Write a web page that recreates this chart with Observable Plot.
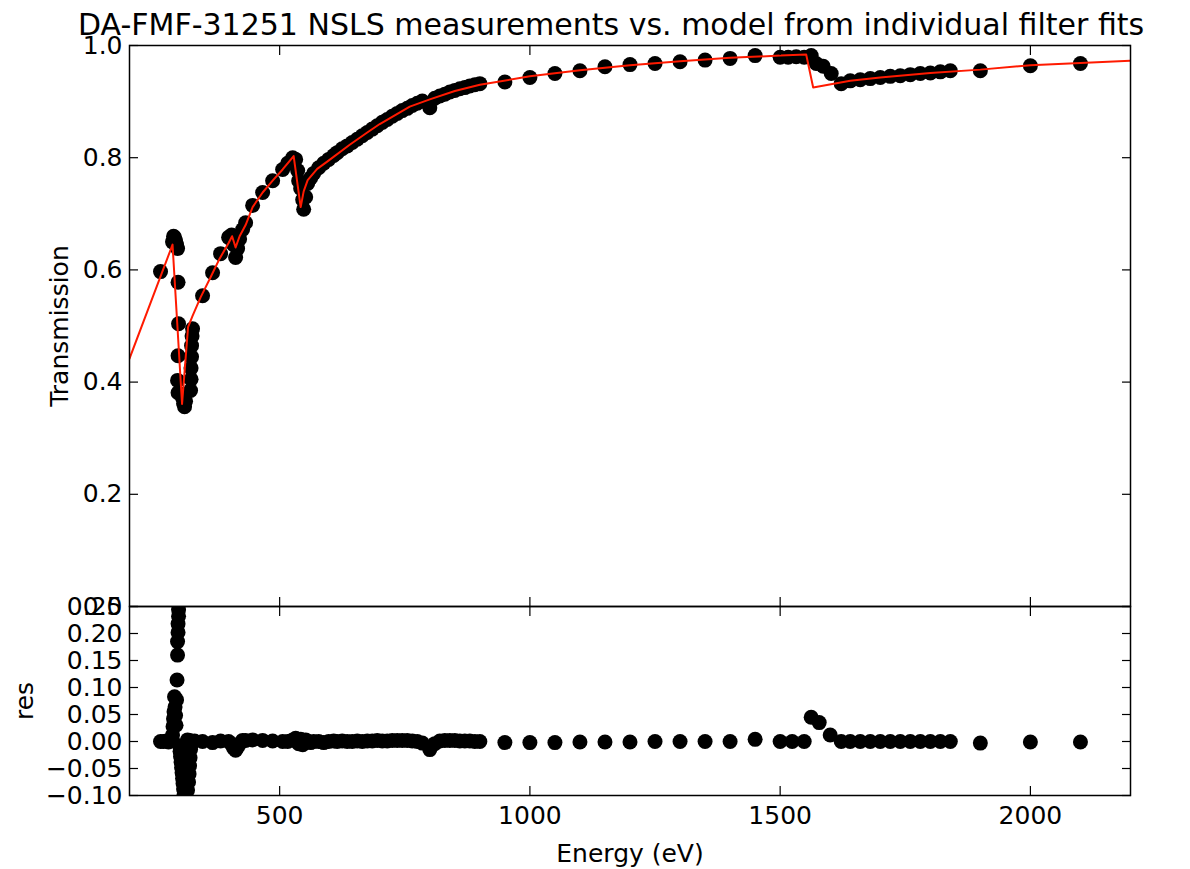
<!DOCTYPE html>
<html>
<head>
<meta charset="utf-8">
<script src="https://cdn.jsdelivr.net/npm/d3@7"></script>
<script src="https://cdn.jsdelivr.net/npm/@observablehq/plot@0.6"></script>
<style>
  body { margin: 0; background: #fff; }
  #wrap { position: relative; width: 1190px; height: 869px; overflow: hidden; font-family: "DejaVu Sans"; color: #000; }
  #title { position: absolute; left: 78px; top: 10px; font-size: 30px; line-height: 30px; white-space: nowrap; }
  #top, #bot { position: absolute; left: 0; }
  #top { top: 0; }
  #bot { top: 590px; }
</style>
</head>
<body>
<div id="wrap">
  <div id="title">DA-FMF-31251 NSLS measurements vs. model from individual filter fits</div>
  <div id="top"></div>
  <div id="bot"></div>
</div>
<script>
// ---- data ----
const measE = [
  262, 286, 288, 290, 292, 294, 296, 297, 298, 297,
  296, 297, 306, 308, 310, 312, 322, 323, 323, 324,
  324, 325, 326, 346, 366, 382, 398, 404, 408, 412,
  416, 420, 426, 432, 446, 466, 486, 506, 516, 526,
  532, 536, 538, 542, 546, 548, 552, 556, 562, 568,
  578, 588, 598, 608, 615, 625, 635, 645, 655, 665,
  675, 685, 695, 705, 715, 725, 735, 745, 755, 765,
  775, 785, 800, 810, 820, 830, 840, 850, 860, 870,
  880, 890, 900, 950, 1000, 1050, 1100, 1150, 1200, 1250,
  1300, 1350, 1400, 1450, 1500, 1516, 1532, 1548, 1562, 1572,
  1586, 1602, 1622, 1640, 1660, 1680, 1700, 1720, 1740, 1760,
  1780, 1800, 1820, 1840, 1900, 2000, 2100
];
const measT = [
  0.597, 0.650, 0.660, 0.658, 0.652, 0.645, 0.638, 0.578, 0.504, 0.447,
  0.403, 0.381, 0.372, 0.362, 0.356, 0.366, 0.385, 0.405, 0.425, 0.445,
  0.465, 0.482, 0.495, 0.554, 0.595, 0.629, 0.658, 0.662, 0.645, 0.622,
  0.638, 0.655, 0.672, 0.684, 0.715, 0.738, 0.759, 0.779, 0.790, 0.800,
  0.797, 0.777, 0.759, 0.745, 0.725, 0.708, 0.730, 0.754, 0.764, 0.772,
  0.782, 0.790, 0.797, 0.804, 0.809, 0.816, 0.821, 0.827, 0.833, 0.839,
  0.845, 0.851, 0.857, 0.863, 0.868, 0.874, 0.879, 0.884, 0.888, 0.893,
  0.897, 0.901, 0.889, 0.906, 0.910, 0.913, 0.917, 0.920, 0.923, 0.925,
  0.928, 0.930, 0.932, 0.935, 0.943, 0.950, 0.955, 0.962, 0.966, 0.968,
  0.971, 0.974, 0.977, 0.982, 0.979, 0.979, 0.980, 0.979, 0.982, 0.968,
  0.963, 0.950, 0.932, 0.937, 0.939, 0.941, 0.943, 0.945, 0.946, 0.948,
  0.950, 0.951, 0.953, 0.955, 0.955, 0.964, 0.968
];

const modelE = [
  200, 286, 305, 317, 326, 342, 362, 380, 398, 405,
  412, 420, 432, 446, 466, 486, 506, 528, 542, 548,
  556, 575, 595, 640, 675, 700, 760, 800, 850, 900,
  1000, 1100, 1200, 1300, 1400, 1500, 1552, 1566, 1640, 1700,
  1800, 1900, 2000, 2100, 2200
];
const modelT = [
  0.442, 0.645, 0.361, 0.498, 0.518, 0.551, 0.587, 0.620, 0.648, 0.660,
  0.640, 0.660, 0.680, 0.712, 0.738, 0.759, 0.779, 0.803, 0.712, 0.740,
  0.760, 0.780, 0.793, 0.823, 0.845, 0.860, 0.891, 0.904, 0.919, 0.930,
  0.945, 0.956, 0.965, 0.972, 0.978, 0.982, 0.984, 0.925, 0.937, 0.943,
  0.951, 0.957, 0.965, 0.969, 0.973
];

const resE = [
  262, 268, 274, 278, 280, 284, 286, 287, 288, 289,
  290, 291, 292, 293, 294, 295, 296, 296, 297, 297,
  298, 298, 300, 301, 302, 303, 304, 305, 306, 307,
  308, 309, 310, 312, 314, 316, 318, 319, 320, 321,
  322, 316, 320, 324, 326, 330, 346, 366, 382, 398,
  404, 408, 412, 416, 420, 426, 432, 446, 466, 486,
  506, 516, 526, 532, 536, 538, 542, 546, 548, 552,
  556, 562, 568, 578, 588, 598, 608, 615, 625, 635,
  645, 655, 665, 675, 685, 695, 705, 715, 725, 735,
  745, 755, 765, 775, 785, 800, 810, 820, 830, 840,
  850, 860, 870, 880, 890, 900, 950, 1000, 1050, 1100,
  1150, 1200, 1250, 1300, 1350, 1400, 1450, 1500, 1524, 1548,
  1562, 1578, 1600, 1622, 1640, 1660, 1680, 1700, 1720, 1740,
  1760, 1780, 1800, 1820, 1840, 1900, 2000, 2100
];
const resV = [
  0.000, 0.000, 0.001, -0.001, 0.002, 0.006, 0.012, 0.028, 0.042, 0.055,
  0.083, 0.064, 0.048, 0.030, 0.077, 0.114, 0.160, 0.185, 0.202, 0.218,
  0.232, 0.244, -0.008, -0.018, -0.028, -0.038, -0.048, -0.058, -0.068, -0.078,
  -0.088, -0.098, -0.108, -0.120, -0.104, -0.090, -0.075, -0.060, -0.045, -0.030,
  -0.015, 0.003, 0.002, -0.004, 0.000, 0.001, 0.000, -0.002, 0.001, 0.000,
  -0.005, -0.012, -0.016, -0.010, -0.004, 0.002, 0.002, 0.003, 0.002, 0.001,
  0.000, 0.000, 0.003, 0.006, 0.001, -0.004, 0.004, -0.006, 0.000, 0.003,
  0.000, -0.002, 0.000, 0.000, -0.002, 0.000, 0.001, 0.000, 0.001, 0.000,
  0.000, 0.001, 0.000, 0.001, 0.001, 0.002, 0.001, 0.001, 0.002, 0.002,
  0.002, 0.002, 0.001, 0.000, -0.003, -0.015, -0.004, 0.001, 0.002, 0.002,
  0.002, 0.001, 0.001, 0.001, 0.000, 0.000, -0.002, -0.002, -0.002, -0.001,
  -0.001, -0.001, 0.000, 0.000, 0.000, 0.000, 0.004, 0.000, 0.000, 0.000,
  0.045, 0.035, 0.012, 0.000, 0.000, 0.000, 0.000, 0.000, 0.000, 0.000,
  0.000, 0.000, 0.000, 0.000, 0.000, -0.003, -0.001, -0.001
];

const xTicks = [500, 1000, 1500, 2000];
const yTicksTop = [0.0, 0.2, 0.4, 0.6, 0.8, 1.0];
const yTicksRes = [-0.10, -0.05, 0.00, 0.05, 0.10, 0.15, 0.20, 0.25];

// ---- build tables ----
const meas = measE.map((e, i) => ({ e, v: measT[i] }));
const model = modelE.map((e, i) => ({ e, v: modelT[i] }));
const res = resE.map((e, i) => ({ e, v: resV[i] }));

const TS = 9;
const baseStyle = { background: "transparent", fontFamily: "DejaVu Sans", fontSize: "25px", color: "#000", overflow: "visible" };

function innerTicks(yt) {
  return [
    Plot.axisX({ anchor: "bottom", ticks: xTicks, tickSize: TS, dy: -TS, tickFormat: () => "", label: null, strokeWidth: 1.2 }),
    Plot.axisX({ anchor: "top", ticks: xTicks, tickSize: TS, dy: TS, tickFormat: () => "", label: null, strokeWidth: 1.2 }),
    Plot.axisY({ anchor: "left", ticks: yt, tickSize: TS, dx: TS, tickFormat: () => "", label: null, strokeWidth: 1.2 }),
    Plot.axisY({ anchor: "right", ticks: yt, tickSize: TS, dx: -TS, tickFormat: () => "", label: null, strokeWidth: 1.2 })
  ];
}

const topPlot = Plot.plot({
  width: 1190, height: 620,
  marginLeft: 129, marginRight: 60, marginTop: 45, marginBottom: 14,
  style: baseStyle,
  x: { domain: [200, 2200] },
  y: { domain: [0, 1] },
  marks: [
    Plot.dot(meas, { x: "e", y: "v", r: 7.5, fill: "#000", clip: true }),
    Plot.line(model, { x: "e", y: "v", stroke: "#ff1a00", strokeWidth: 2, clip: true }),
    ...innerTicks(yTicksTop),
    Plot.axisY({ anchor: "left", ticks: yTicksTop, tickSize: 0, tickPadding: 7, tickFormat: d3.format(".1f"), label: null, fontSize: 25 }),
    Plot.frame({ stroke: "#000", strokeWidth: 1.5 }),
    Plot.text(["Transmission"], { text: d => d, frameAnchor: "left", textAnchor: "middle", dx: -70, rotate: -90, fontSize: 25, fill: "#000" })
  ]
});
document.getElementById("top").appendChild(topPlot);

const botPlot = Plot.plot({
  width: 1190, height: 279,
  marginLeft: 129, marginRight: 60, marginTop: 16, marginBottom: 74,
  style: baseStyle,
  x: { domain: [200, 2200] },
  y: { domain: [-0.10, 0.25] },
  marks: [
    Plot.dot(res, { x: "e", y: "v", r: 7.5, fill: "#000", clip: true }),
    ...innerTicks(yTicksRes),
    Plot.axisY({ anchor: "left", ticks: yTicksRes, tickSize: 0, tickPadding: 7, tickFormat: d3.format(".2f"), label: null, fontSize: 25 }),
    Plot.axisX({ anchor: "bottom", ticks: xTicks, tickSize: 0, tickPadding: 11, tickFormat: d3.format("d"), label: null, fontSize: 25 }),
    Plot.frame({ stroke: "#000", strokeWidth: 1.5 }),
    Plot.text(["res"], { text: d => d, frameAnchor: "left", textAnchor: "middle", dx: -105, rotate: -90, fontSize: 25, fill: "#000" }),
    Plot.text(["Energy (eV)"], { text: d => d, frameAnchor: "bottom", dy: 66, fontSize: 25, fill: "#000" })
  ]
});
document.getElementById("bot").appendChild(botPlot);
</script>
</body>
</html>
